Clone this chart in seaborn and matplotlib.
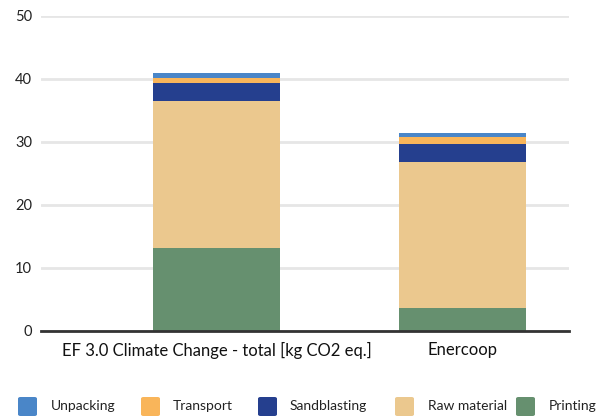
import matplotlib
matplotlib.use("Agg")
import matplotlib.pyplot as plt
from matplotlib.patches import FancyBboxPatch
import numpy as np
import pandas as pd
import seaborn as sns

categories = ["EF 3.0 Climate Change - total [kg CO2 eq.]", "Enercoop"]
printing = [13.2, 3.7]
raw_material = [23.25, 23.1]
sandblasting = [2.85, 2.85]
transport = [0.85, 1.05]
unpacking = [0.7, 0.75]

series_names = ["Printing", "Raw material", "Sandblasting", "Transport", "Unpacking"]
series_values = [printing, raw_material, sandblasting, transport, unpacking]
colors = {
    "Printing": "#66906f",
    "Raw material": "#ebc88e",
    "Sandblasting": "#253f8e",
    "Transport": "#f9b55a",
    "Unpacking": "#4a86c8",
}

sns.set_theme(style="white")
plt.rcParams["font.family"] = ["Lato", "DejaVu Sans"]

W, H = 613, 417
fig = plt.figure(figsize=(W / 100, H / 100), dpi=100)
ax = fig.add_axes([41 / W, 86 / H, 528 / W, 315.3 / H])

# stacked bars: draw cumulative totals from the top segment down
cum = np.cumsum(np.array(series_values), axis=0)
for i in range(len(series_names) - 1, -1, -1):
    name = series_names[i]
    df = pd.DataFrame({"category": categories, "value": cum[i]})
    sns.barplot(data=df, x="category", y="value", color=colors[name],
                saturation=1, width=0.516, ax=ax, zorder=3, linewidth=0)

ax.set_xlim(-0.713, 1.433)
ax.set_ylim(0, 50)
ax.set_yticks([0, 10, 20, 30, 40, 50])
ax.yaxis.grid(True, color="#e6e6e6", linewidth=2)
ax.set_axisbelow(True)
for s in ["top", "right", "left"]:
    ax.spines[s].set_visible(False)
ax.spines["bottom"].set_color("#333333")
ax.spines["bottom"].set_linewidth(2)
ax.spines["bottom"].set_zorder(4)
ax.set_xlabel("")
ax.set_ylabel("")
ax.tick_params(axis="y", length=0, pad=6.5, labelsize=10.5, labelcolor="#222222")
ax.tick_params(axis="x", length=0, pad=8, labelsize=12, labelcolor="#111111")

# legend row along the bottom edge
legend_order = ["Unpacking", "Transport", "Sandblasting", "Raw material", "Printing"]
box_x = [18, 141, 258, 395, 516]
text_x = [51, 173, 290, 428, 549]
y_mid = 406.5
box = 19
for name, bx, tx in zip(legend_order, box_x, text_x):
    fig.add_artist(FancyBboxPatch((bx / W, (H - y_mid - box / 2) / H), box / W, box / H,
                                  boxstyle="round,pad=0,rounding_size=0.004",
                                  facecolor=colors[name], edgecolor="none",
                                  transform=fig.transFigure))
    fig.text(tx / W, (H - y_mid) / H, name, ha="left", va="center",
             fontsize=10, color="#222222")

fig.savefig("out.png", dpi=100)
